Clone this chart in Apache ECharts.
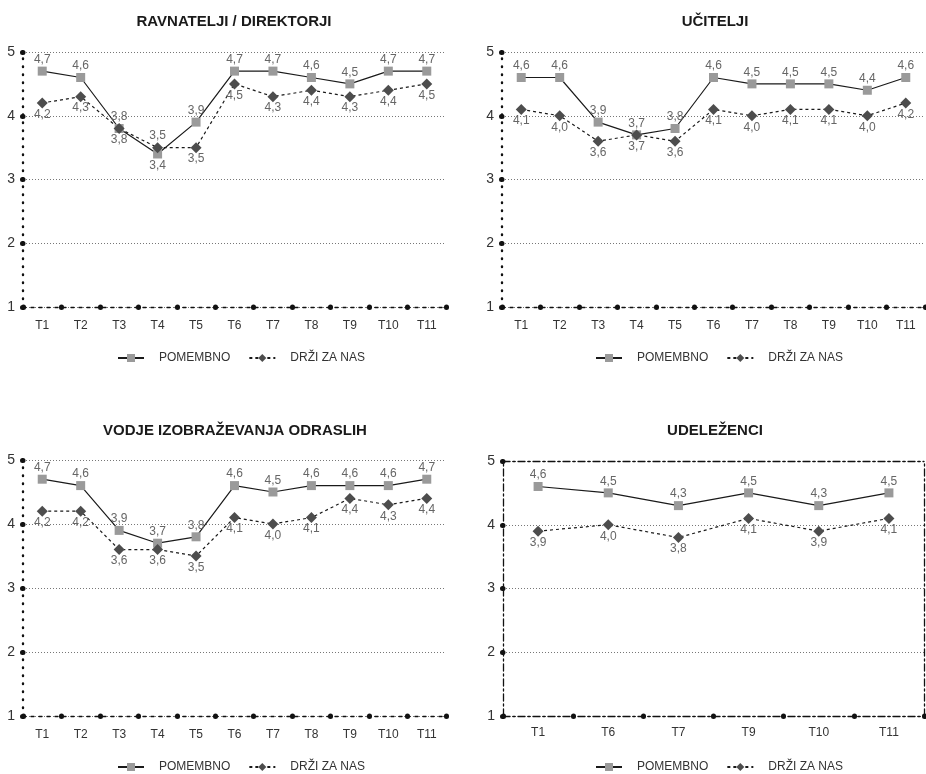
<!DOCTYPE html>
<html><head><meta charset="utf-8">
<script src="https://cdn.jsdelivr.net/npm/echarts@6/dist/echarts.min.js"></script>
<style>html,body{margin:0;padding:0;background:#fff}#c{width:926px;height:774px}</style>
</head><body><div id="c"></div>
<script>
// ---------- data ----------
const categoriesAll = ['T1','T2','T3','T4','T5','T6','T7','T8','T9','T10','T11'];
const categoriesUdelezenci = ['T1','T6','T7','T9','T10','T11'];
const panelTitles = ['RAVNATELJI / DIREKTORJI','UČITELJI','VODJE IZOBRAŽEVANJA ODRASLIH','UDELEŽENCI'];
const seriesNames = ['POMEMBNO','DRŽI ZA NAS'];
const yTicks = [1,2,3,4,5];

const ravnateljiPomembno = [4.7,4.6,3.8,3.4,3.9,4.7,4.7,4.6,4.5,4.7,4.7];
const ravnateljiDrzi     = [4.2,4.3,3.8,3.5,3.5,4.5,4.3,4.4,4.3,4.4,4.5];
const uciteljiPomembno   = [4.6,4.6,3.9,3.7,3.8,4.6,4.5,4.5,4.5,4.4,4.6];
const uciteljiDrzi       = [4.1,4.0,3.6,3.7,3.6,4.1,4.0,4.1,4.1,4.0,4.2];
const vodjePomembno      = [4.7,4.6,3.9,3.7,3.8,4.6,4.5,4.6,4.6,4.6,4.7];
const vodjeDrzi          = [4.2,4.2,3.6,3.6,3.5,4.1,4.0,4.1,4.4,4.3,4.4];
const udelezenciPomembno = [4.6,4.5,4.3,4.5,4.3,4.5];
const udelezenciDrzi     = [3.9,4.0,3.8,4.1,3.9,4.1];

// label placement exceptions (style only)
const labelFlips = { '0-0-3': 'bottom', '0-1-3': 'top' };

// ---------- layout / style ----------
const FONT = "'Liberation Sans', Arial, sans-serif";
const grids = [
  {left: 23,  top: 52,  width: 423, height: 255},
  {left: 502, top: 52,  width: 423, height: 255},
  {left: 23,  top: 460, width: 423, height: 256},
  {left: 503, top: 461, width: 421, height: 255}
];
const titlePos = [{x: 234, y: 14}, {x: 715, y: 14}, {x: 235, y: 423}, {x: 715, y: 423}];
const legendPos = [{x: 112, y: 347}, {x: 590, y: 347}, {x: 112, y: 756}, {x: 590, y: 756}];
const panelCats = [categoriesAll, categoriesAll, categoriesAll, categoriesUdelezenci];
const panelData = [
  [ravnateljiPomembno, ravnateljiDrzi],
  [uciteljiPomembno, uciteljiDrzi],
  [vodjePomembno, vodjeDrzi],
  [udelezenciPomembno, udelezenciDrzi]
];

const dotted = [0.5, 7.5];
const dashed = [3, 5];
const dashDot = [7, 3, 2, 3];
const fmt = v => v.toFixed(1).replace('.', ',');
const dotTick = {show: true, length: 0.5, interval: 0, lineStyle: {color: '#111', width: 5, cap: 'round'}};

const xAxes = [], yAxes = [], series = [], titles = [], legends = [];
panelData.forEach((pair, p) => {
  const isLast = p === 3;
  xAxes.push({
    type: 'category', gridIndex: p, data: panelCats[p], boundaryGap: true,
    axisLine: {lineStyle: {color: '#111', width: 1.4, type: isLast ? dashDot : dashed}},
    axisTick: dotTick,
    axisLabel: {interval: 0, margin: isLast ? 11 : 13, color: '#333', fontSize: 12, fontFamily: FONT},
    splitLine: {show: false}
  });
  yAxes.push({
    type: 'value', gridIndex: p, min: yTicks[0], max: yTicks[yTicks.length - 1], interval: 1,
    axisLine: {show: true, lineStyle: isLast
      ? {color: '#111', width: 1.3, type: dashDot}
      : {color: '#111', width: 2.4, type: dotted, cap: 'round'}},
    axisTick: {show: true, length: 0.5, lineStyle: {color: '#111', width: 5, cap: 'round'}},
    axisLabel: {margin: 8, color: '#333', fontSize: 14, fontFamily: FONT},
    splitLine: {show: true, lineStyle: {color: '#777', width: 1, type: [1, 2]}}
  });
  titles.push({
    text: panelTitles[p], left: titlePos[p].x, top: titlePos[p].y, textAlign: 'center', padding: 0,
    textStyle: {fontSize: 15, fontWeight: 'bold', color: '#1a1a1a', fontFamily: FONT}
  });
  legends.push({
    data: seriesNames, left: legendPos[p].x, top: legendPos[p].y, itemWidth: 26, itemHeight: 10, itemGap: 18,
    textStyle: {fontSize: 12, color: '#333', fontFamily: FONT, padding: [0, 0, 0, 10]}
  });
  pair.forEach((vals, s) => {
    const defPos = s === 0 ? 'top' : 'bottom';
    series.push({
      name: seriesNames[s], type: 'line', xAxisIndex: p, yAxisIndex: p,
      data: vals.map((v, i) => {
        const pos = labelFlips[p + '-' + s + '-' + i];
        return pos ? {value: v, label: {position: pos}} : v;
      }),
      symbol: s === 0 ? 'rect' : 'diamond',
      symbolSize: s === 0 ? 9 : 11,
      itemStyle: {color: s === 0 ? '#9a9a9a' : '#4d4d4d'},
      lineStyle: {color: '#1a1a1a', width: 1.2, type: s === 0 ? 'solid' : [3, 3]},
      label: {show: true, position: defPos, distance: s === 0 ? 1 : 0, color: '#666', fontSize: 12, fontFamily: FONT,
        formatter: prm => fmt(prm.value)},
      animation: false
    });
  });
});
// frame for UDELEŽENCI panel (top and right dash-dot borders)
xAxes.push({
  type: 'category', gridIndex: 3, position: 'top', data: categoriesUdelezenci,
  axisLine: {lineStyle: {color: '#111', width: 1.3, type: dashDot}},
  axisTick: {show: false}, axisLabel: {show: false}, splitLine: {show: false}
});
yAxes.push({
  type: 'value', gridIndex: 3, position: 'right', min: 1, max: 5, interval: 1,
  axisLine: {show: true, lineStyle: {color: '#111', width: 1.3, type: dashDot}},
  axisTick: {show: false}, axisLabel: {show: false}, splitLine: {show: false}
});

const chart = echarts.init(document.getElementById('c'), null, {renderer: 'canvas'});
chart.setOption({
  backgroundColor: '#fff',
  animation: false,
  title: titles,
  legend: legends,
  grid: grids,
  xAxis: xAxes,
  yAxis: yAxes,
  series: series
});
</script></body></html>
